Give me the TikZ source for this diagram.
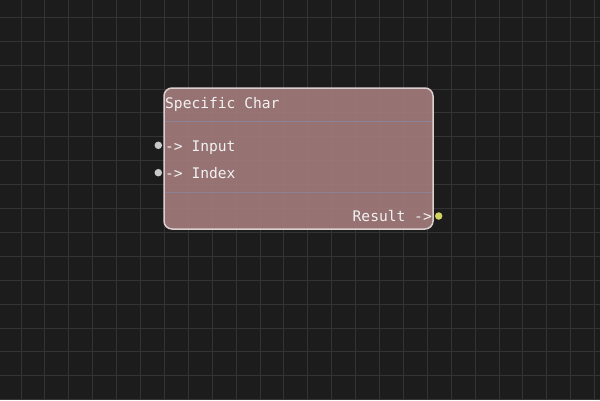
\documentclass[tikz,border=0pt]{standalone}
\usepackage{fontspec}
\setmonofont{DejaVu Sans Mono}
\definecolor{bg}{HTML}{1C1C1C}
\definecolor{gridc}{HTML}{333333}
\definecolor{nodefill}{HTML}{A47C7C}
\definecolor{nodeborder}{HTML}{DCCFCF}
\definecolor{sepc}{HTML}{8C8196}
\definecolor{txt}{HTML}{F2F2F2}
\definecolor{portin}{HTML}{C8C8C8}
\definecolor{portout}{HTML}{D2D264}
\tikzset{
  lbl/.style={inner sep=0pt, text=txt, font=\ttfamily\fontsize{14.6}{16}\selectfont},
  port/.style={circle, inner sep=0pt, minimum size=7.5pt},
  sepline/.style={sepc, line width=1.2pt},
}
\begin{document}
\begin{tikzpicture}[x=1pt,y=-1pt]
\fill[bg] (0,0) rectangle (600,400);
\useasboundingbox (0,0) rectangle (600,400);
\foreach \i in {0,...,24} {
  \draw[gridc, line width=1pt] ({21+23.9*\i},0) -- ({21+23.9*\i},400);
}
\foreach \j in {0,...,16} {
  \draw[gridc, line width=1pt] (0,{17.3+23.9*\j}) -- (600,{17.3+23.9*\j});
}
\draw[nodeborder, line width=1.5pt, fill=nodefill, fill opacity=0.9, rounded corners=8pt] (164,88) rectangle (433,229);
\draw[sepline] (164.8,121.3) -- (432.2,121.3);
\draw[sepline] (164.8,192.7) -- (432.2,192.7);
\node[lbl, anchor=base west] (title) at (165,108.3) {Specific Char};
\node[lbl, anchor=base west] (in1) at (165,151) {-> Input};
\node[lbl, anchor=base west] (in2) at (165,178.5) {-> Index};
\node[lbl, anchor=base east] (out) at (432,221.5) {Result ->};
\node[port, fill=portin] (p1) at (158.3,145.3) {};
\node[port, fill=portin] (p2) at (158.3,172.7) {};
\node[port, fill=portout] (p3) at (438.7,216) {};
\end{tikzpicture}
\end{document}
